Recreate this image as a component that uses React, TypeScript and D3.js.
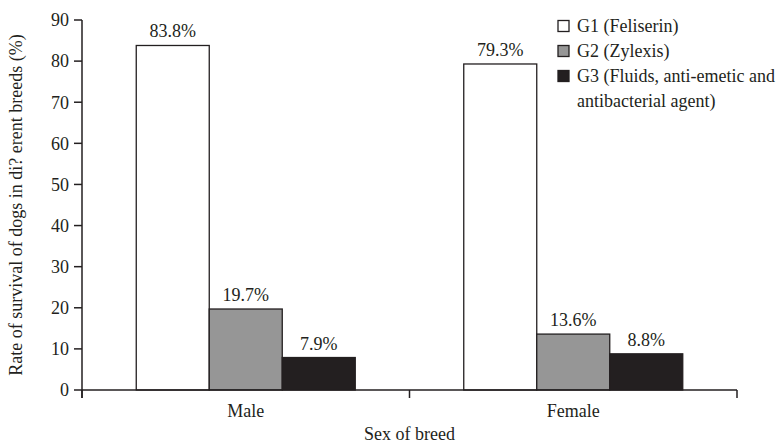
import React from "react";
import * as d3 from "d3";

const categories = ["Male", "Female"];
const seriesNames = ["G1 (Feliserin)", "G2 (Zylexis)", "G3 (Fluids, anti-emetic and antibacterial agent)"];
const g1Values = [83.8, 79.3];
const g2Values = [19.7, 13.6];
const g3Values = [7.9, 8.8];
const yTicks = [0, 10, 20, 30, 40, 50, 60, 70, 80, 90];
const colors = ["#ffffff", "#969696", "#231f20"];

const W = 782;
const H = 444;
const FONT = "Liberation Serif, Tinos, Times New Roman, serif";

export default function App() {
  const x0 = 82, x1 = 737, yTop = 20, yBot = 390;
  const x = d3.scaleBand<string>().domain(categories).range([x0, x1]);
  const y = d3.scaleLinear().domain([0, 90]).range([yBot, yTop]);
  const series = [g1Values, g2Values, g3Values];
  const groupW = 219;
  const xs = d3.scaleBand<number>().domain([0, 1, 2]).range([0, groupW]).padding(0);
  const boundaries = [x0, ...categories.map((c) => (x(c) as number) + x.bandwidth())];
  const ts = { fontFamily: FONT, fontSize: 18 } as React.CSSProperties;

  return (
    <svg width={W} height={H} style={{ position: "absolute", left: 0, top: 0, background: "#fff", fontFamily: FONT }}>
      <rect width={W} height={H} fill="#fff" />
      {categories.map((c, ci) => {
        const gx = (x(c) as number) + x.bandwidth() / 2 - groupW / 2;
        return series.map((s, si) => {
          const bx = gx + (xs(si) as number);
          const by = y(s[ci]);
          return (
            <g key={`${ci}-${si}`}>
              <rect x={bx} y={by} width={xs.bandwidth()} height={yBot - by} fill={colors[si]} stroke="#231f20" strokeWidth={1.3} />
              <text x={bx + xs.bandwidth() / 2} y={by - 8} textAnchor="middle" style={ts} fill="#231f20">
                {s[ci].toFixed(1)}%
              </text>
            </g>
          );
        });
      })}
      <line x1={x0} x2={x0} y1={yTop} y2={yBot + 8} stroke="#231f20" strokeWidth={1.5} />
      {yTicks.map((t) => (
        <g key={t}>
          <line x1={x0 - 8} x2={x0} y1={y(t)} y2={y(t)} stroke="#231f20" strokeWidth={1.5} />
          <text x={x0 - 13} y={y(t)} dy="0.35em" textAnchor="end" style={ts} fill="#231f20">
            {t}
          </text>
        </g>
      ))}
      <line x1={x0} x2={x1} y1={yBot} y2={yBot} stroke="#231f20" strokeWidth={1.5} />
      {boundaries.map((b, i) => (
        <line key={i} x1={b} x2={b} y1={yBot} y2={yBot + 8} stroke="#231f20" strokeWidth={1.5} />
      ))}
      {categories.map((c) => (
        <text key={c} x={(x(c) as number) + x.bandwidth() / 2} y={417} textAnchor="middle" style={ts} fill="#231f20">
          {c}
        </text>
      ))}
      <text x={(x0 + x1) / 2} y={440} textAnchor="middle" style={ts} fill="#231f20">
        Sex of breed
      </text>
      <text transform={`translate(22,${(yTop + yBot) / 2}) rotate(-90)`} textAnchor="middle" style={ts} fill="#231f20">
        Rate of survival of dogs in di? erent breeds (%)
      </text>
      {seriesNames.map((n, i) => {
        const ly = 26 + i * 25;
        const parts = i === 2 ? ["G3 (Fluids, anti-emetic and", "antibacterial agent)"] : [n];
        return (
          <g key={n}>
            <rect x={558} y={ly - 5.5} width={11} height={11} fill={colors[i]} stroke="#231f20" strokeWidth={1.3} />
            {parts.map((p, pi) => (
              <text key={pi} x={577} y={ly + pi * 25} dy="0.35em" style={ts} fill="#231f20">
                {p}
              </text>
            ))}
          </g>
        );
      })}
    </svg>
  );
}
